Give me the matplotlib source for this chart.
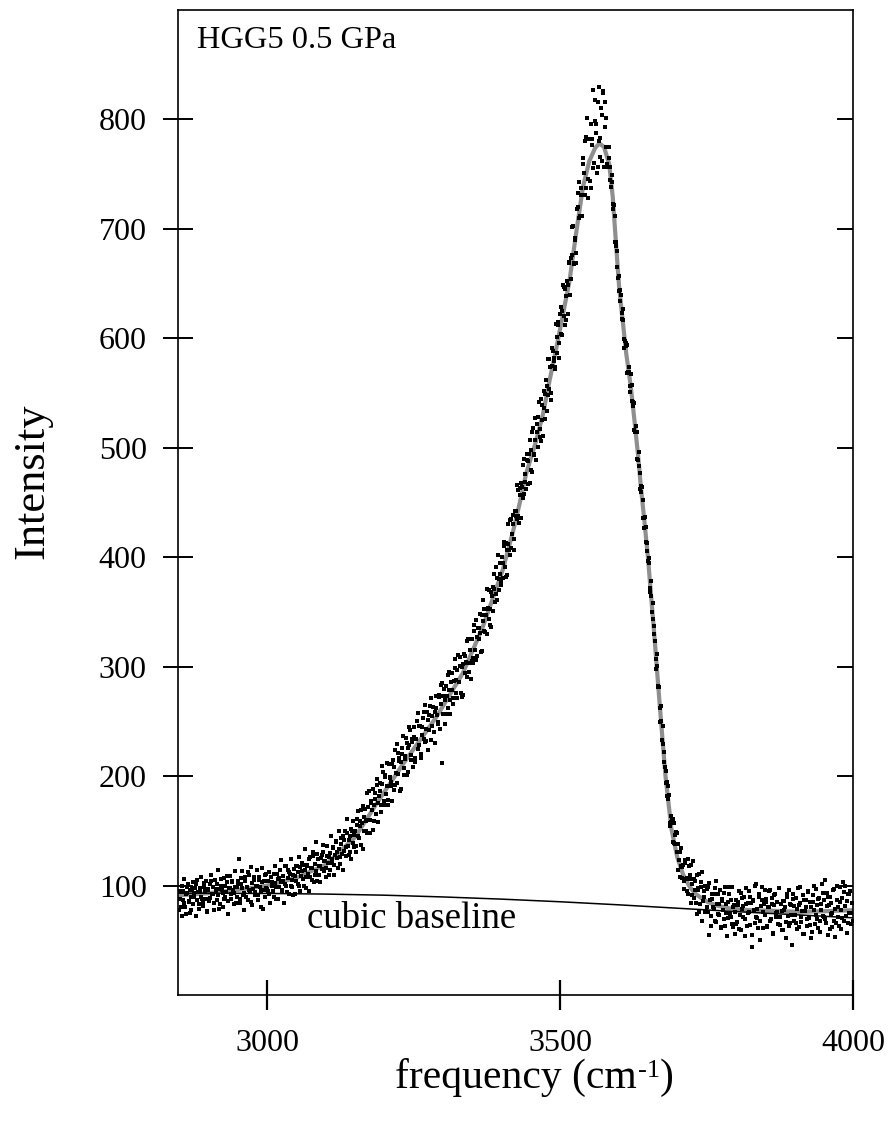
import numpy as np
import matplotlib
matplotlib.use("Agg")
import matplotlib.pyplot as plt

plt.rcParams['font.family'] = ['Liberation Serif', 'DejaVu Serif']

# ---------------- data ----------------
freq_even = np.arange(2850, 4001, 2)  # sampling grid (cm-1)
freq_odd = np.arange(2851, 4000, 2)

intensity_even = [
    78, 88, 72, 95, 84, 80, 92, 99, 86, 75, 90, 97, 83, 93, 101, 87, 94, 79, 98, 90, 85, 102, 95, 88, 77,
    96, 89, 104, 92, 99, 84, 95, 101, 91, 79, 97, 106, 93, 88, 100, 94, 109, 86, 98, 92, 103, 96, 83, 99, 90,
    101, 124, 88, 107, 98, 93, 104, 90, 99, 112, 96, 85, 102, 97, 108, 94, 100, 91, 105, 99, 80, 103, 96, 110, 98,
    97, 104, 92, 108, 100, 95, 111, 102, 88, 106, 99, 114, 103, 96, 109, 101, 118, 94, 107, 112, 100, 105, 91, 115, 109,
    104, 112, 100, 117, 109, 121, 106, 114, 98, 119, 111, 124, 108, 116, 127, 103, 120, 113, 129, 110, 118, 125, 115, 131, 122,
    116, 127, 121, 110, 130, 124, 135, 119, 128, 141, 125, 133, 120, 138, 129, 145, 132, 127, 148, 136, 142, 131, 152, 139, 146,
    150, 136, 161, 145, 159, 137, 157, 173, 150, 159, 148, 172, 186, 160, 175, 151, 174, 185, 165, 192, 175, 186, 167, 193, 204,
    177, 199, 191, 174, 211, 199, 191, 211, 187, 224, 203, 194, 221, 214, 188, 220, 237, 207, 218, 230, 204, 228, 242, 219, 231,
    236, 213, 234, 250, 225, 246, 217, 238, 253, 234, 265, 232, 251, 242, 264, 233, 255, 263, 230, 262, 256, 249, 274, 283, 212,
    257, 280, 270, 257, 292, 279, 257, 286, 279, 271, 299, 288, 271, 311, 286, 301, 272, 302, 312, 294, 303, 323, 295, 315, 289,
    325, 308, 338, 306, 327, 335, 325, 348, 314, 342, 353, 332, 347, 371, 344, 338, 368, 365, 351, 385, 366, 381, 402, 370, 385,
    375, 395, 410, 391, 413, 384, 412, 434, 408, 421, 439, 417, 442, 435, 461, 431, 457, 468, 454, 490, 469, 462, 489, 488, 468,
    498, 478, 518, 494, 507, 522, 501, 542, 517, 506, 539, 536, 526, 562, 556, 548, 581, 544, 575, 588, 579, 572, 601, 615, 596,
    622, 604, 625, 647, 612, 639, 652, 622, 669, 654, 676, 703, 669, 692, 678, 720, 743, 712, 731, 712, 759, 780, 737, 801, 728,
    782, 737, 782, 827, 760, 799, 796, 757, 830, 783, 810, 762, 826, 816, 801, 759, 775, 765, 745, 749, 723, 722, 688, 688, 665,
    657, 634, 640, 618, 617, 591, 593, 594, 569, 569, 551, 557, 538, 541, 514, 514, 490, 496, 477, 460, 464, 436, 436, 428, 406,
    397, 395, 368, 365, 358, 330, 323, 298, 301, 281, 262, 264, 233, 229, 222, 194, 195, 179, 183, 154, 158, 161, 139, 146, 149,
    131, 114, 131, 118, 107, 119, 104, 121, 107, 92, 118, 106, 119, 91, 106, 96, 84, 110, 96, 76, 99, 112, 86, 95, 76,
    80, 99, 55, 87, 72, 92, 79, 98, 67, 83, 92, 73, 61, 86, 78, 93, 63, 83, 70, 99, 74, 87, 65, 80, 56,
    87, 67, 82, 60, 93, 79, 71, 90, 54, 83, 75, 95, 64, 84, 44, 87, 100, 71, 79, 61, 90, 68, 99, 76, 83,
    73, 88, 62, 80, 96, 69, 83, 57, 91, 75, 85, 65, 98, 71, 77, 59, 86, 80, 67, 92, 63, 83, 73, 46, 88,
    81, 66, 79, 98, 62, 84, 71, 91, 56, 77, 87, 69, 94, 64, 80, 58, 85, 100, 73, 82, 61, 89, 68, 78, 93,
    71, 105, 66, 81, 90, 60, 84, 75, 96, 68, 53, 87, 80, 63, 99, 78, 70, 94, 100, 72, 86, 66, 92, 75, 84, 68,
]

intensity_odd = [
    95, 80, 100, 87, 106, 74, 93, 101, 85, 96, 78, 103, 90, 98, 72, 105, 83, 94, 108, 88, 81, 99, 104, 76, 97,
    86, 101, 110, 92, 78, 105, 97, 87, 114, 83, 100, 96, 80, 107, 90, 103, 74, 98, 109, 88, 104, 93, 113, 84, 99,
    104, 84, 101, 113, 91, 78, 108, 99, 87, 110, 94, 117, 82, 105, 91, 100, 114, 87, 108, 95, 116, 79, 104, 90, 111,
    95, 112, 84, 108, 103, 90, 118, 99, 111, 88, 107, 123, 95, 104, 84, 118, 100, 114, 92, 111, 124, 99, 110, 92, 118,
    118, 101, 126, 95, 113, 119, 100, 133, 108, 118, 95, 126, 116, 105, 131, 110, 140, 104, 124, 118, 103, 128, 137, 113, 122,
    108, 136, 126, 114, 145, 121, 134, 110, 140, 131, 116, 150, 126, 143, 114, 142, 150, 135, 161, 128, 145, 124, 150, 159, 135,
    131, 155, 168, 143, 154, 169, 133, 163, 170, 150, 185, 160, 148, 177, 169, 188, 159, 179, 197, 158, 182, 194, 174, 209, 174,
    201, 184, 212, 178, 198, 195, 177, 215, 208, 192, 229, 202, 217, 186, 213, 226, 201, 216, 235, 201, 226, 245, 215, 234, 208,
    245, 217, 234, 258, 228, 246, 220, 245, 259, 231, 243, 259, 224, 256, 271, 246, 263, 240, 259, 273, 248, 272, 243, 266, 285,
    273, 248, 282, 273, 262, 295, 270, 294, 266, 287, 307, 276, 297, 286, 309, 276, 300, 274, 310, 304, 291, 325, 303, 325, 305,
    303, 333, 315, 343, 310, 335, 331, 313, 347, 361, 333, 353, 330, 354, 370, 353, 336, 373, 371, 359, 391, 361, 380, 395, 378,
    400, 381, 414, 382, 407, 430, 407, 402, 435, 430, 407, 442, 438, 466, 438, 463, 436, 464, 484, 458, 476, 494, 467, 494, 507,
    480, 514, 493, 527, 489, 514, 528, 510, 545, 525, 511, 552, 549, 534, 581, 554, 574, 550, 591, 582, 574, 613, 587, 612, 582,
    629, 603, 649, 620, 645, 617, 649, 670, 640, 673, 702, 668, 690, 669, 718, 733, 710, 737, 712, 765, 751, 731, 784, 746, 782,
    744, 796, 777, 756, 818, 788, 751, 816, 780, 766, 804, 824, 757, 793, 775, 757, 775, 757, 738, 743, 718, 712, 684, 680, 655,
    643, 644, 623, 627, 599, 598, 596, 568, 574, 556, 567, 543, 542, 516, 520, 514, 489, 483, 462, 465, 452, 427, 437, 414, 413,
    399, 372, 378, 350, 344, 337, 307, 312, 282, 281, 249, 250, 246, 213, 208, 205, 182, 191, 157, 164, 161, 140, 157, 138, 148,
    138, 123, 108, 134, 117, 97, 123, 106, 95, 124, 110, 84, 101, 122, 89, 104, 74, 98, 111, 83, 103, 68, 90, 100, 77,
    97, 76, 102, 63, 88, 80, 92, 68, 104, 74, 83, 96, 62, 88, 69, 99, 75, 54, 85, 92, 71, 99, 62, 82, 76,
    65, 85, 95, 73, 59, 89, 81, 69, 98, 63, 84, 76, 90, 55, 86, 78, 66, 101, 70, 92, 50, 81, 87, 61, 96,
    85, 63, 80, 95, 68, 89, 56, 82, 92, 71, 76, 98, 64, 83, 59, 86, 78, 52, 90, 72, 96, 66, 82, 92, 68,
    73, 89, 60, 82, 99, 67, 77, 56, 87, 80, 63, 95, 70, 85, 52, 91, 78, 65, 97, 69, 88, 58, 83, 101, 72,
    87, 69, 93, 55, 82, 90, 74, 62, 97, 79, 66, 100, 71, 85, 60, 89, 103, 68, 81, 57, 92, 75, 95, 65, 84,
]

fit_x = [2848, 2900, 2950, 3000, 3050, 3100, 3150, 3187, 3232, 3289,
         3334, 3368, 3402, 3420, 3431, 3442, 3459, 3471, 3482, 3494,
         3505, 3516, 3528, 3539, 3550, 3560, 3567, 3575, 3584, 3590,
         3596, 3601, 3607, 3613, 3621, 3627, 3633, 3638, 3644, 3650,
         3660, 3670, 3680, 3690, 3700, 3710, 3720, 3730, 3740, 3752,
         3766, 3790, 3823, 3860, 3908, 3950, 4000]
fit_y = [91, 93, 96, 100, 107, 119, 144, 175, 211, 254,
         294, 336, 388, 424, 449, 476, 506, 531, 561, 592,
         622, 652, 698, 738, 762, 774, 778, 775, 759, 729,
         683, 646, 616, 586, 555, 525, 494, 464, 433, 400,
         335, 266, 200, 152, 126, 110, 100, 93, 89, 85,
         82, 79, 77.5, 77, 76, 76.5, 77.5]

base_x = [2848, 2900, 3000, 3100, 3200, 3300, 3400, 3500, 3600, 3700, 3800, 3900, 4000]
base_y = [93, 93, 92.8, 92.2, 91.2, 89.6, 87.6, 85.2, 82.4, 79.3, 76.2, 73.4, 70.5]

xticks = [3000, 3500, 4000]
yticks = [100, 200, 300, 400, 500, 600, 700, 800]

# ---------------- figure ----------------
W, H = 888, 1122
fig = plt.figure(figsize=(W / 100, H / 100), dpi=100)
ax = fig.add_axes([178 / W, 1 - 995 / H, (853 - 178) / W, (995 - 10) / H])

ax.plot(fit_x, fit_y, color='#8f8f8f', lw=3.0, zorder=2, solid_joinstyle='round')
for fx, fy in ((freq_even, intensity_even), (freq_odd, intensity_odd)):
    ax.plot(fx, fy, linestyle='none', marker='s', markersize=3.1,
            markerfacecolor='black', markeredgewidth=0, color='black', zorder=3)
ax.plot(base_x, base_y, color='black', lw=1.1, zorder=4)

ax.set_xlim(2848, 4000)
ax.set_ylim(0, 900)

ax.set_xticks(xticks)
ax.set_yticks(yticks)
ax.set_xticklabels([str(v) for v in xticks])
ax.set_yticklabels([str(v) for v in yticks])

for s in ax.spines.values():
    s.set_linewidth(1.2)

ax.tick_params(axis='x', which='major', direction='inout', length=21, width=1.6,
               labelsize=23, pad=14, top=False, bottom=True)
ax.tick_params(axis='y', which='major', direction='inout', length=21, width=1.4,
               labelsize=23, pad=12, left=True, right=False)

# right-side inward ticks
ax2 = ax.twinx()
ax2.set_ylim(ax.get_ylim())
ax2.set_yticks(yticks)
ax2.tick_params(axis='y', direction='in', length=11.5, width=1.4, labelright=False)
for s in ax2.spines.values():
    s.set_visible(False)

ax.text(0.028, 0.9617, 'HGG5 0.5 GPa', transform=ax.transAxes, fontsize=23.3,
        ha='left', va='baseline')
ax.text(3068, 61, 'cubic baseline', fontsize=26.5, ha='left', va='baseline')

fig.text(32 / W, 1 - 481 / H, 'Intensity', rotation=90, fontsize=32,
         ha='center', va='center')

# x label with superscript
y0 = 1 - 1088 / H
t1 = fig.text(395 / W, y0, 'frequency (cm', fontsize=30, ha='left', va='baseline')
fig.canvas.draw()
r = fig.canvas.get_renderer()
bb1 = t1.get_window_extent(r)
t2 = fig.text(bb1.x1 / W + 1 / W, y0 + 11 / H, '-1', fontsize=19, ha='left', va='baseline')
fig.canvas.draw()
bb2 = t2.get_window_extent(r)
fig.text(bb2.x1 / W, y0, ')', fontsize=30, ha='left', va='baseline')

fig.savefig('out.png', dpi=100)
